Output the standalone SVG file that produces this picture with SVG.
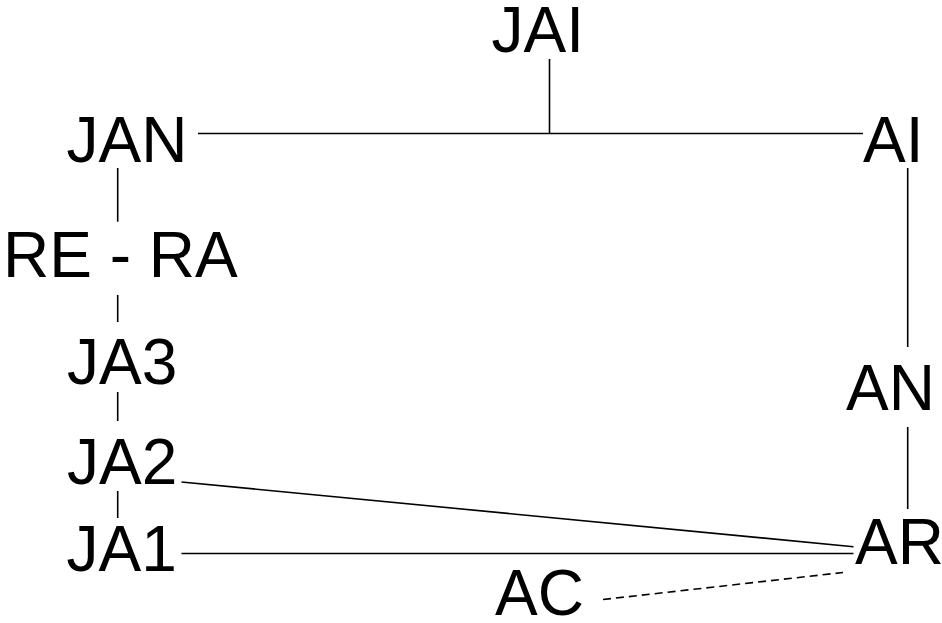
<svg xmlns="http://www.w3.org/2000/svg" width="942" height="623" viewBox="0 0 942 623">
<style>
text { font-family: "Liberation Sans", Arial, sans-serif; font-size: 64px; fill: #000; }
.c { stroke: #000; stroke-width: 1.6; fill: none; }
.d { stroke-dasharray: 8 5; }
</style>
<rect width="942" height="623" fill="#fff"/>
<g id="connectors">
<line class="c" x1="549.5" y1="59" x2="549.5" y2="133.5"/>
<line class="c" x1="198" y1="133.5" x2="863" y2="133.5"/>
<line class="c" x1="117.7" y1="168" x2="117.7" y2="221.7"/>
<line class="c" x1="117.7" y1="295" x2="117.7" y2="322"/>
<line class="c" x1="117.7" y1="392" x2="117.7" y2="421"/>
<line class="c" x1="117.7" y1="491" x2="117.7" y2="518"/>
<line class="c" x1="907.7" y1="168" x2="907.7" y2="347"/>
<line class="c" x1="907.7" y1="427" x2="907.7" y2="509"/>
<line class="c" x1="181.5" y1="482" x2="853.5" y2="546.7"/>
<line class="c" x1="181.5" y1="553.5" x2="853.5" y2="553.5"/>
<line class="c d" x1="603" y1="599.5" x2="843" y2="572.5"/>
</g>
<g id="JAI"><text x="491.5" y="52">JAI</text></g>
<g id="JAN"><text x="66.5" y="162">JAN</text></g>
<g id="AI"><text x="863" y="162">AI</text></g>
<g id="RE-RA"><text x="3" y="276.5">RE - RA</text></g>
<g id="JA3"><text x="67" y="384">JA3</text></g>
<g id="JA2"><text x="67" y="483.5">JA2</text></g>
<g id="JA1"><text x="66.5" y="571">JA1</text></g>
<g id="AN"><text x="846" y="410">AN</text></g>
<g id="AR"><text x="855" y="563.5">AR</text></g>
<g id="AC"><text x="495" y="615">AC</text></g>
</svg>
